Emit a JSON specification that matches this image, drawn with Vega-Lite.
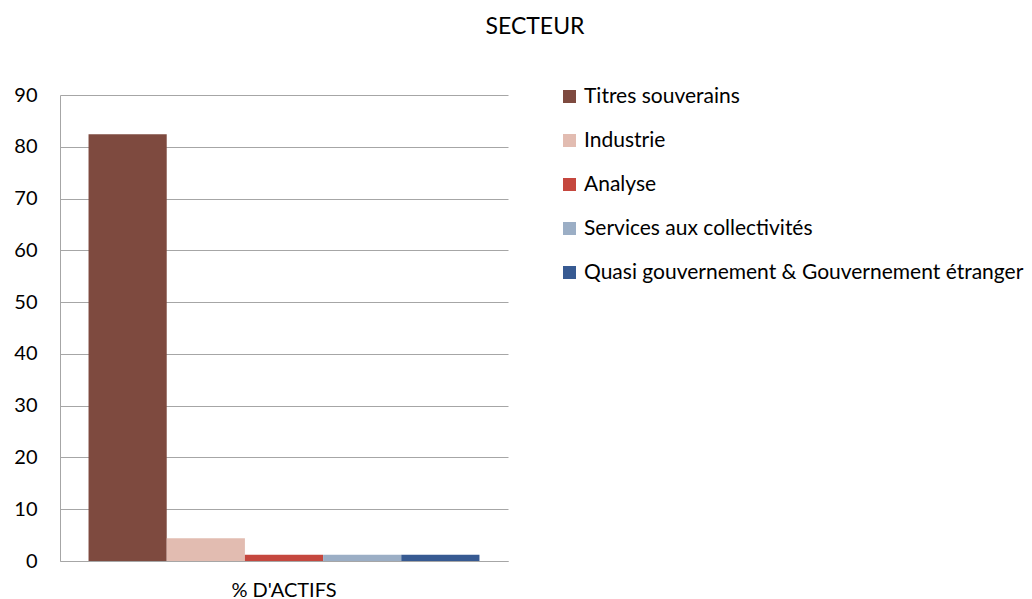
{
  "$schema": "https://vega.github.io/schema/vega-lite/v6.json",
  "autosize": {"type": "none"},
  "width": 448,
  "height": 466,
  "padding": {"left": 60, "top": 95, "right": 524, "bottom": 38},
  "background": "white",
  "title": {"text": "SECTEUR", "anchor": "middle", "dx": 251, "offset": 46, "font": "Lato", "fontSize": 23, "fontWeight": "normal", "color": "#000000"},
  "data": {"values": [
    {"groupe": "% D'ACTIFS", "secteur": "Titres souverains", "ordre": 1, "valeur": 82.4},
    {"groupe": "% D'ACTIFS", "secteur": "Industrie", "ordre": 2, "valeur": 4.4},
    {"groupe": "% D'ACTIFS", "secteur": "Analyse", "ordre": 3, "valeur": 1.2},
    {"groupe": "% D'ACTIFS", "secteur": "Services aux collectivités", "ordre": 4, "valeur": 1.2},
    {"groupe": "% D'ACTIFS", "secteur": "Quasi gouvernement & Gouvernement étranger", "ordre": 5, "valeur": 1.2}
  ]},
  "mark": {"type": "bar"},
  "encoding": {
    "x": {"field": "groupe", "type": "nominal", "title": null,
      "scale": {"paddingInner": 0, "paddingOuter": 0.073},
      "axis": {"labelAngle": 0, "ticks": false, "domainColor": "#a6a6a6", "labelFont": "Lato", "labelFontSize": 20, "labelColor": "#000000", "labelPadding": 19}},
    "xOffset": {"field": "secteur", "type": "nominal", "sort": {"field": "ordre"}, "scale": {"paddingInner": 0, "paddingOuter": 0}},
    "y": {"field": "valeur", "type": "quantitative", "title": null,
      "scale": {"domain": [0, 90], "nice": false},
      "axis": {"values": [0,10,20,30,40,50,60,70,80,90], "ticks": false, "grid": true, "gridColor": "#a6a6a6", "domainColor": "#a6a6a6", "labelFont": "Lato", "labelFontSize": 20, "labelColor": "#000000", "labelPadding": 23}},
    "color": {"field": "secteur", "type": "nominal", "sort": {"field": "ordre"}, "title": null,
      "scale": {"domain": ["Titres souverains", "Industrie", "Analyse", "Services aux collectivités", "Quasi gouvernement & Gouvernement étranger"],
        "range": ["#7E4A3F", "#E2BCB1", "#C5473E", "#9BAEC5", "#375A92"]},
      "legend": {"orient": "none", "legendX": 499, "legendY": -9, "symbolType": "square", "symbolSize": 169, "symbolStrokeWidth": 0, "symbolOpacity": 1, "labelFont": "Lato", "labelFontSize": 21, "labelColor": "#000000", "labelLimit": 600, "rowPadding": 22, "labelOffset": 4}}
  },
  "config": {"view": {"stroke": null}, "axis": {"gridWidth": 1, "domainWidth": 1}}
}
